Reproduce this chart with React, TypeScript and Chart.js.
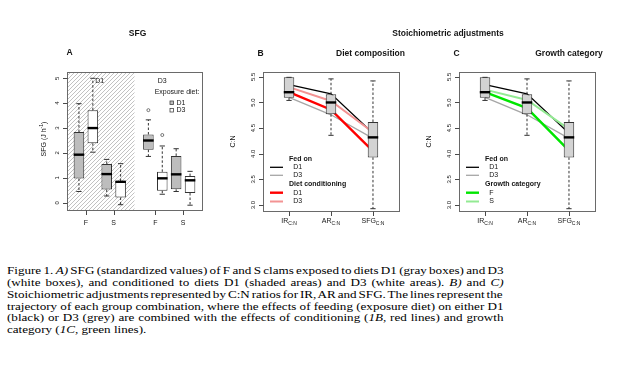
import React, { useEffect, useMemo, useRef } from "react";
import { Chart, registerables } from "chart.js";

Chart.register(...registerables);

const SANS = "'Liberation Sans', Arial, Helvetica, sans-serif";
const SERIF = "'Liberation Serif', 'Times New Roman', Times, serif";

// ---------------- Panel A : SFG ----------------
const sfgPositions = [1, 2, 3, 4, 6, 7, 8, 9];
const sfgExposure = ["D1", "D3", "D1", "D3", "D1", "D3", "D1", "D3"];
const sfgMin = [0.45, 2.03, 0.27, -0.08, 1.86, 0.34, 0.45, -0.1];
const sfgQ1 = [0.97, 2.39, 0.53, 0.21, 2.13, 0.48, 0.54, 0.39];
const sfgMedian = [1.93, 3.0, 1.15, 0.84, 2.5, 0.98, 1.14, 0.9];
const sfgQ3 = [2.84, 3.72, 1.56, 0.87, 2.74, 1.24, 1.88, 1.07];
const sfgMax = [3.98, 5.0, 1.74, 1.57, 3.33, 2.28, 2.17, 1.26];
const sfgOutlierPos = [6, 7];
const sfgOutlierVal = [3.72, 2.72];
const sfgTickPos = [1.5, 3.5, 6.5, 8.5];
const sfgTickLabels = ["F", "S", "F", "S"];
const sfgYTicks = [0, 1, 2, 3, 4, 5];
const sfgYTickLabels = ["0", "1", "2", "3", "4", "5"];
const sfgConditioning = ["D1", "D3"];
const sfgShadeEnd = 5;

// ---------------- Panels B / C : C:N ----------------
const cnCategories = ["IR", "AR", "SFG"];
const cnSubscript = "C:N";
const cnMin = [5.04, 4.36, 2.93];
const cnQ1 = [5.09, 4.77, 3.93];
const cnMedian = [5.2, 5.0, 4.32];
const cnQ3 = [5.49, 5.16, 4.62];
const cnMax = [5.49, 5.46, 5.42];
const cnYTicks = [3.0, 3.5, 4.0, 4.5, 5.0, 5.5];
const cnYTickLabels = ["3.0", "3.5", "4.0", "4.5", "5.0", "5.5"];
const fedOnD1 = [5.35, 5.17, 4.4];
const fedOnD3 = [5.1, 4.76, 4.3];
const conditioningD1 = [5.2, 4.86, 4.05];
const conditioningD3 = [5.3, 5.03, 4.42];
const growthF = [5.2, 4.89, 4.06];
const growthS = [5.25, 5.05, 4.48];

// ---------------- Caption ----------------
const captionLines: [string, boolean][][] = [
  [["Figure 1. ", false], ["A)", true], [" SFG (standardized values) of F and S clams exposed to diets D1 (gray boxes) and D3", false]],
  [["(white boxes), and conditioned to diets D1 (shaded areas) and D3 (white areas). ", false], ["B)", true], [" and ", false], ["C)", true]],
  [["Stoichiometric adjustments represented by C:N ratios for IR, AR and SFG. The lines represent the", false]],
  [["trajectory of each group combination, where the effects of feeding (exposure diet) on either D1", false]],
  [["(black) or D3 (grey) are combined with the effects of conditioning (", false], ["1B", true], [", red lines) and growth", false]],
  [["category (", false], ["1C", true], [", green lines).", false]],
];

const CAP_FONT = 13.1;
const CAP_WIDTH = 497;
const CAP_SCALE_Y = 0.84;
const CAP_LINE = 11.8 / CAP_SCALE_Y;

const TEXT = "#151515";
const AXIS = "#4a4a4a";
const FRAME = "#6a6a6a";
const BOX_EDGE = "#333333";
const GRAY_BOX = "#bdbdbd";
const LIGHT_BOX = "#d3d3d3";

const font = (size: number, bold = false) => `${bold ? "bold " : ""}${size}px ${SANS}`;

function txt(ctx: CanvasRenderingContext2D, s: string, x: number, y: number, size = 7, bold = false, align: CanvasTextAlign = "center") {
  ctx.save();
  ctx.font = font(size, bold);
  ctx.fillStyle = TEXT;
  ctx.textAlign = align;
  ctx.textBaseline = "middle";
  ctx.fillText(s, x, y);
  ctx.restore();
}

function drawAxes(chart: any, cfg: { xTicks: number[]; xLabels: string[]; xSub?: string; xLabelDy: number; yTicks: number[]; yLabels: string[]; yLabelGap: number }) {
  const { ctx, chartArea: a } = chart;
  const xs = chart.scales.x;
  const ys = chart.scales.y;
  ctx.save();
  ctx.strokeStyle = FRAME;
  ctx.lineWidth = 1;
  ctx.strokeRect(a.left + 0.5, a.top + 0.5, a.right - a.left, a.bottom - a.top);
  ctx.strokeStyle = AXIS;
  ctx.beginPath();
  cfg.yTicks.forEach((v) => {
    const y = Math.round(ys.getPixelForValue(v)) + 0.5;
    ctx.moveTo(a.left - 4, y);
    ctx.lineTo(a.left + 0.5, y);
  });
  cfg.xTicks.forEach((v) => {
    const x = Math.round(xs.getPixelForValue(v)) + 0.5;
    ctx.moveTo(x, a.bottom + 0.5);
    ctx.lineTo(x, a.bottom + 5);
  });
  ctx.stroke();
  ctx.fillStyle = TEXT;
  ctx.textBaseline = "middle";
  ctx.textAlign = "center";
  ctx.font = font(6);
  cfg.yTicks.forEach((v, i) => {
    const y = ys.getPixelForValue(v);
    ctx.save();
    ctx.translate(a.left - cfg.yLabelGap, y);
    ctx.rotate(-Math.PI / 2);
    ctx.fillText(cfg.yLabels[i], 0, 0);
    ctx.restore();
  });
  cfg.xTicks.forEach((v, i) => {
    const x = xs.getPixelForValue(v);
    const y = a.bottom + cfg.xLabelDy;
    if (cfg.xSub) {
      ctx.font = font(7);
      const w1 = ctx.measureText(cfg.xLabels[i]).width;
      ctx.font = font(5);
      const w2 = ctx.measureText(cfg.xSub).width;
      const x0 = x - (w1 + w2) / 2;
      ctx.textAlign = "left";
      ctx.font = font(7);
      ctx.fillText(cfg.xLabels[i], x0, y);
      ctx.font = font(5);
      ctx.fillText(cfg.xSub, x0 + w1, y + 2);
    } else {
      ctx.textAlign = "center";
      ctx.font = font(7);
      ctx.fillText(cfg.xLabels[i], x, y);
    }
  });
  ctx.restore();
}

function whiskerPlugin(mins: number[], meds: number[], q1s: number[], q3s: number[], maxs: number[]) {
  return {
    id: "whiskers",
    afterDatasetsDraw(chart: any) {
      const meta = chart.getDatasetMeta(0);
      const ys = chart.scales.y;
      const ctx = chart.ctx as CanvasRenderingContext2D;
      meta.data.forEach((bar: any, i: number) => {
        const cx = bar.x;
        const hw = bar.width / 2;
        const yMin = ys.getPixelForValue(mins[i]);
        const yMax = ys.getPixelForValue(maxs[i]);
        const yQ1 = ys.getPixelForValue(q1s[i]);
        const yQ3 = ys.getPixelForValue(q3s[i]);
        const yMed = ys.getPixelForValue(meds[i]);
        ctx.save();
        ctx.strokeStyle = BOX_EDGE;
        ctx.lineWidth = 1;
        ctx.setLineDash([2.5, 2]);
        ctx.beginPath();
        ctx.moveTo(cx, yQ3);
        ctx.lineTo(cx, yMax);
        ctx.moveTo(cx, yQ1);
        ctx.lineTo(cx, yMin);
        ctx.stroke();
        ctx.setLineDash([]);
        ctx.beginPath();
        ctx.moveTo(cx - hw / 2, yMax);
        ctx.lineTo(cx + hw / 2, yMax);
        ctx.moveTo(cx - hw / 2, yMin);
        ctx.lineTo(cx + hw / 2, yMin);
        ctx.stroke();
        ctx.strokeStyle = "#000";
        ctx.lineWidth = 2.4;
        ctx.beginPath();
        ctx.moveTo(cx - hw, yMed);
        ctx.lineTo(cx + hw, yMed);
        ctx.stroke();
        ctx.restore();
      });
    },
  };
}

const hatchPlugin = {
  id: "hatch",
  beforeDatasetsDraw(chart: any) {
    const { ctx, chartArea: a } = chart;
    const xEnd = chart.scales.x.getPixelForValue(sfgShadeEnd);
    const h = a.bottom - a.top;
    ctx.save();
    ctx.beginPath();
    ctx.rect(a.left, a.top, xEnd - a.left, h);
    ctx.clip();
    ctx.strokeStyle = "#b3b3b3";
    ctx.lineWidth = 0.8;
    for (let x = a.left - h; x < xEnd + 4; x += 4) {
      ctx.beginPath();
      ctx.moveTo(x, a.bottom);
      ctx.lineTo(x + h, a.top);
      ctx.stroke();
    }
    ctx.restore();
  },
};

const baseOptions = (padding: any, xmin: number, xmax: number, ymin: number, ymax: number, xTicks: number[], yTicks: number[]) => ({
  responsive: false,
  maintainAspectRatio: false,
  animation: false as const,
  devicePixelRatio: 1,
  events: [] as any[],
  layout: { padding },
  scales: {
    x: {
      type: "linear" as const,
      min: xmin,
      max: xmax,
      display: false,
      offset: false,
      afterBuildTicks: (s: any) => {
        s.ticks = xTicks.map((v) => ({ value: v }));
      },
    },
    y: {
      type: "linear" as const,
      min: ymin,
      max: ymax,
      display: false,
      afterBuildTicks: (s: any) => {
        s.ticks = yTicks.map((v) => ({ value: v }));
      },
    },
  },
  plugins: { legend: { display: false }, tooltip: { enabled: false } },
});

const lineSet = (vals: number[], color: string, width: number, order: number) => ({
  type: "line" as const,
  data: vals.map((v, i) => ({ x: i + 1, y: v })),
  borderColor: color,
  borderWidth: width,
  pointRadius: 0,
  tension: 0,
  fill: false,
  order,
});

function cnChart(canvas: HTMLCanvasElement, title: string, letter: string, letterDx: number, titleDx: number, headerLabel: string, lines2: { label: string; vals: number[]; color: string; width: number }[], superTitle: boolean) {
  const fed = [
    { label: "D1", vals: fedOnD1, color: "#000000", width: 1.3 },
    { label: "D3", vals: fedOnD3, color: "#a6a6a6", width: 1.3 },
  ];
  const padRight = canvas.width - 48 - 136;
  const opts: any = baseOptions({ left: 48, top: 72, right: padRight, bottom: 21 }, 0.38, 3.62, 2.885, 5.594, [1, 2, 3], cnYTicks);
  const axesPlugin = {
    id: "rAxes",
    afterDraw(chart: any) {
      const { ctx, chartArea: a } = chart;
      const L = a.left;
      drawAxes(chart, { xTicks: [1, 2, 3], xLabels: cnCategories, xSub: cnSubscript, xLabelDy: 10.5, yTicks: cnYTicks, yLabels: cnYTickLabels, yLabelGap: 10 });
      ctx.save();
      ctx.translate(L - 30, (a.top + a.bottom) / 2);
      ctx.rotate(-Math.PI / 2);
      txt(ctx, "C:N", 0, 0, 7);
      ctx.restore();
      if (superTitle) txt(ctx, "Stoichiometric adjustments", L + 185, 34, 8.5, true);
      txt(ctx, letter, L + letterDx, 54, 8.5, true, "left");
      txt(ctx, title, L + titleDx, 54, 8.5, true);
      const rows = [159.3, 167.3, 175.3, 184, 192.7, 201.5];
      txt(ctx, "Fed on", L + 26, rows[0], 7, true, "left");
      txt(ctx, headerLabel, L + 26, rows[3], 7, true, "left");
      const items = [
        { ...fed[0], y: rows[1] },
        { ...fed[1], y: rows[2] },
        { ...lines2[0], y: rows[4] },
        { ...lines2[1], y: rows[5] },
      ];
      items.forEach((it) => {
        ctx.save();
        ctx.strokeStyle = it.color;
        ctx.lineWidth = it.width;
        ctx.beginPath();
        ctx.moveTo(L + 7, it.y);
        ctx.lineTo(L + 20, it.y);
        ctx.stroke();
        ctx.restore();
        txt(ctx, it.label, L + 30.3, it.y, 7, false, "left");
      });
    },
  };
  return new Chart(canvas, {
    type: "bar",
    data: {
      datasets: [
        {
          type: "bar",
          data: cnCategories.map((_, i) => ({ x: i + 1, y: [cnQ1[i], cnQ3[i]] })) as any,
          backgroundColor: LIGHT_BOX,
          borderColor: BOX_EDGE,
          borderWidth: 1,
          borderSkipped: false,
          categoryPercentage: 0.8,
          barPercentage: 0.3125,
          order: 0,
        },
        lineSet(lines2[0].vals, lines2[0].color, lines2[0].width, 1),
        lineSet(lines2[1].vals, lines2[1].color, lines2[1].width, 2),
        lineSet(fedOnD1, "#000000", 1.3, 3),
        lineSet(fedOnD3, "#a6a6a6", 1.3, 4),
      ] as any,
    },
    options: opts,
    plugins: [whiskerPlugin(cnMin, cnMedian, cnQ1, cnQ3, cnMax), axesPlugin],
  });
}

export default function App() {
  const refA = useRef<HTMLCanvasElement>(null);
  const refB = useRef<HTMLCanvasElement>(null);
  const refC = useRef<HTMLCanvasElement>(null);

  const wordSpacings = useMemo(() => {
    const c = document.createElement("canvas").getContext("2d")!;
    return captionLines.map((segs, i) => {
      if (i === captionLines.length - 1) return 0;
      let w = 0;
      let spaces = 0;
      segs.forEach(([t, it]) => {
        c.font = `${it ? "italic " : ""}${CAP_FONT}px ${SERIF}`;
        w += c.measureText(t).width;
        spaces += (t.match(/ /g) || []).length;
      });
      return spaces ? (CAP_WIDTH - 0.5 - w) / spaces : 0;
    });
  }, []);

  useEffect(() => {
    const axesA = {
      id: "rAxesA",
      afterDraw(chart: any) {
        const { ctx, chartArea: a } = chart;
        const xs = chart.scales.x;
        drawAxes(chart, { xTicks: sfgTickPos, xLabels: sfgTickLabels, xLabelDy: 13, yTicks: sfgYTicks, yLabels: sfgYTickLabels, yLabelGap: 9.5 });
        txt(ctx, "SFG", 137.5, 34, 8.5, true);
        txt(ctx, "A", 66.5, 52.5, 8.5, true, "left");
        txt(ctx, sfgConditioning[0], xs.getPixelForValue(2.5), 81, 7);
        txt(ctx, sfgConditioning[1], xs.getPixelForValue(7.0), 81, 7);
        txt(ctx, "Exposure diet:", 177, 92, 7);
        ctx.save();
        ctx.strokeStyle = "#444";
        ctx.lineWidth = 0.8;
        ctx.fillStyle = GRAY_BOX;
        ctx.fillRect(170, 101, 3.5, 3.5);
        ctx.strokeRect(170, 101, 3.5, 3.5);
        ctx.fillStyle = "#fff";
        ctx.fillRect(170, 108.5, 3.5, 3.5);
        ctx.strokeRect(170, 108.5, 3.5, 3.5);
        ctx.restore();
        txt(ctx, "D1", 176.5, 102.8, 7, false, "left");
        txt(ctx, "D3", 176.5, 110.3, 7, false, "left");
        ctx.save();
        ctx.translate(44, (a.top + a.bottom) / 2 - 2);
        ctx.rotate(-Math.PI / 2);
        ctx.fillStyle = TEXT;
        ctx.textBaseline = "middle";
        ctx.textAlign = "left";
        const p1 = "SFG (J h";
        const p2 = "-1";
        const p3 = ")";
        ctx.font = font(7);
        const w1 = ctx.measureText(p1).width;
        const w3 = ctx.measureText(p3).width;
        ctx.font = font(5);
        const w2 = ctx.measureText(p2).width;
        const x0 = -(w1 + w2 + w3) / 2;
        ctx.font = font(7);
        ctx.fillText(p1, x0, 0);
        ctx.font = font(5);
        ctx.fillText(p2, x0 + w1, -2.5);
        ctx.font = font(7);
        ctx.fillText(p3, x0 + w1 + w2, 0);
        ctx.restore();
      },
    };
    const optsA: any = baseOptions({ left: 67, top: 72, right: 13, bottom: 22 }, 0.14, 9.86, -0.293, 5.253, sfgTickPos, sfgYTicks);
    const chartA = new Chart(refA.current!, {
      type: "bar",
      data: {
        datasets: [
          {
            type: "bar",
            data: sfgPositions.map((p, i) => ({ x: p, y: [sfgQ1[i], sfgQ3[i]] })) as any,
            backgroundColor: sfgExposure.map((e) => (e === "D1" ? GRAY_BOX : "#ffffff")),
            borderColor: BOX_EDGE,
            borderWidth: 1,
            borderSkipped: false,
            categoryPercentage: 0.8,
            barPercentage: 0.95,
            order: 0,
          },
          {
            type: "scatter",
            data: sfgOutlierPos.map((p, i) => ({ x: p, y: sfgOutlierVal[i] })),
            pointRadius: 1.5,
            pointBorderWidth: 0.8,
            pointBorderColor: "#555",
            pointBackgroundColor: "rgba(255,255,255,0)",
            showLine: false,
            order: 1,
          },
        ] as any,
      },
      options: optsA,
      plugins: [hatchPlugin, whiskerPlugin(sfgMin, sfgMedian, sfgQ1, sfgQ3, sfgMax), axesA],
    });

    const chartB = cnChart(refB.current!, "Diet composition", "B", -5.5, 107.5, "Diet conditioning", [
      { label: "D1", vals: conditioningD1, color: "#ff0000", width: 2.4 },
      { label: "D3", vals: conditioningD3, color: "#f39393", width: 2 },
    ], true);
    const chartC = cnChart(refC.current!, "Growth category", "C", -5.5, 110, "Growth category", [
      { label: "F", vals: growthF, color: "#00e600", width: 2.4 },
      { label: "S", vals: growthS, color: "#93ea93", width: 2 },
    ], false);

    return () => {
      chartA.destroy();
      chartB.destroy();
      chartC.destroy();
    };
  }, []);

  const cv = (left: number, width: number): React.CSSProperties => ({ position: "absolute", left, top: 0, width, height: 232 });

  return (
    <div style={{ position: "absolute", left: 0, top: 0, width: 637, height: 376, background: "#fff", overflow: "hidden" }}>
      <canvas ref={refA} width={215} height={232} style={cv(0, 215)} />
      <canvas ref={refB} width={300} height={232} style={cv(215, 300)} />
      <canvas ref={refC} width={226} height={232} style={cv(411, 226)} />
      <div
        style={{
          position: "absolute",
          left: 7,
          top: 265,
          width: CAP_WIDTH + 40,
          transform: `scaleY(${CAP_SCALE_Y})`,
          transformOrigin: "top left",
          fontFamily: SERIF,
          fontSize: CAP_FONT,
          lineHeight: `${CAP_LINE}px`,
          color: "#000",
        }}
      >
        {captionLines.map((segs, i) => (
          <div key={i} style={{ height: CAP_LINE, whiteSpace: "nowrap", textAlign: "left", wordSpacing: `${wordSpacings[i]}px` }}>
            {segs.map(([t, it], j) => (
              <span key={j} style={{ fontStyle: it ? "italic" : "normal" }}>
                {t}
              </span>
            ))}
          </div>
        ))}
      </div>
    </div>
  );
}
